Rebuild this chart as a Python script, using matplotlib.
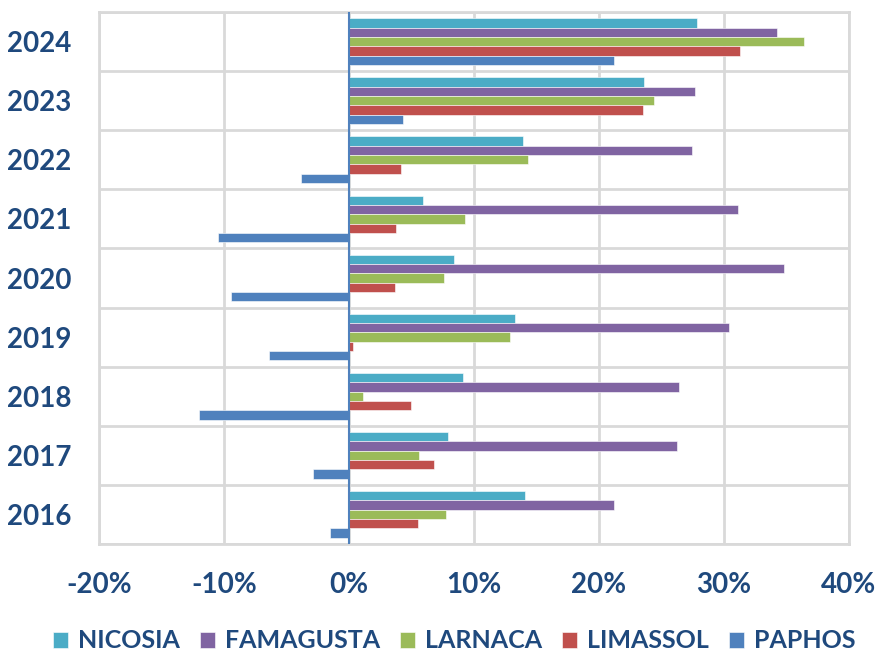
import numpy as np
import matplotlib
matplotlib.use("Agg")
import matplotlib.pyplot as plt
from matplotlib.ticker import FuncFormatter

# data (percent change)
years = ["2016", "2017", "2018", "2019", "2020", "2021", "2022", "2023", "2024"]
series = ["NICOSIA", "FAMAGUSTA", "LARNACA", "LIMASSOL", "PAPHOS"]
nicosia = [14.1, 7.9, 9.1, 13.3, 8.4, 5.9, 13.9, 23.6, 27.8]
famagusta = [21.2, 26.2, 26.4, 30.4, 34.8, 31.1, 27.4, 27.7, 34.2]
larnaca = [7.8, 5.6, 1.1, 12.9, 7.6, 9.3, 14.3, 24.4, 36.4]
limassol = [5.5, 6.8, 5.0, 0.3, 3.7, 3.8, 4.2, 23.5, 31.3]
paphos = [-1.5, -2.9, -12.0, -6.4, -9.4, -10.5, -3.8, 4.3, 21.2]
colors = ["#4bacc6", "#8064a2", "#9bbb59", "#c0504d", "#4f81bd"]

values = [nicosia, famagusta, larnaca, limassol, paphos]
txt = "#1f497d"
plt.rcParams['font.family'] = ['Lato', 'DejaVu Sans']

fig = plt.figure(figsize=(8.82, 6.52), dpi=100)
ax = fig.add_axes([0.1122, 0.1656, 0.8504, 0.816])

y = np.arange(len(years))
h = 0.158
for k in range(len(series)):
    # first series sits on top of each group
    off = (2 - k) * h
    ax.barh(y + off, values[k], height=h, color=colors[k], label=series[k],
            edgecolor="white", linewidth=0.4, zorder=3)

ax.set_xlim(-20, 40)
ax.set_ylim(-0.5, len(years) - 0.5)
ax.set_xticks(np.arange(-20, 41, 10))
ax.xaxis.set_major_formatter(FuncFormatter(lambda v, p: "%d%%" % v))
ax.set_yticks(y)
ax.set_yticklabels(years)

# grid: vertical at ticks, horizontal between categories
ax.set_yticks(np.arange(-0.5, len(years), 1), minor=True)
ax.grid(axis="x", color="#d9d9d9", linewidth=2, zorder=0)
ax.grid(axis="y", which="minor", color="#d9d9d9", linewidth=2, zorder=0)
ax.axvline(0, color="#4f81bd", linewidth=1.5, zorder=4)

for s in ax.spines.values():
    s.set_color("#d9d9d9")
    s.set_linewidth(2)
ax.tick_params(axis="both", which="both", length=0)
ax.tick_params(axis="x", pad=20)
ax.tick_params(axis="y", pad=20)
for lab in ax.get_xticklabels() + ax.get_yticklabels():
    lab.set_fontsize(20)
    lab.set_fontweight("bold")
    lab.set_color(txt)

leg = fig.legend(loc="center", bbox_to_anchor=(0.515, 0.017), ncol=5, frameon=False,
                 handlelength=0.6, handleheight=0.6, handletextpad=0.4, columnspacing=0.8,
                 prop={"size": 18, "weight": "bold"})
for t in leg.get_texts():
    t.set_color(txt)

fig.savefig("out.png", dpi=100)
